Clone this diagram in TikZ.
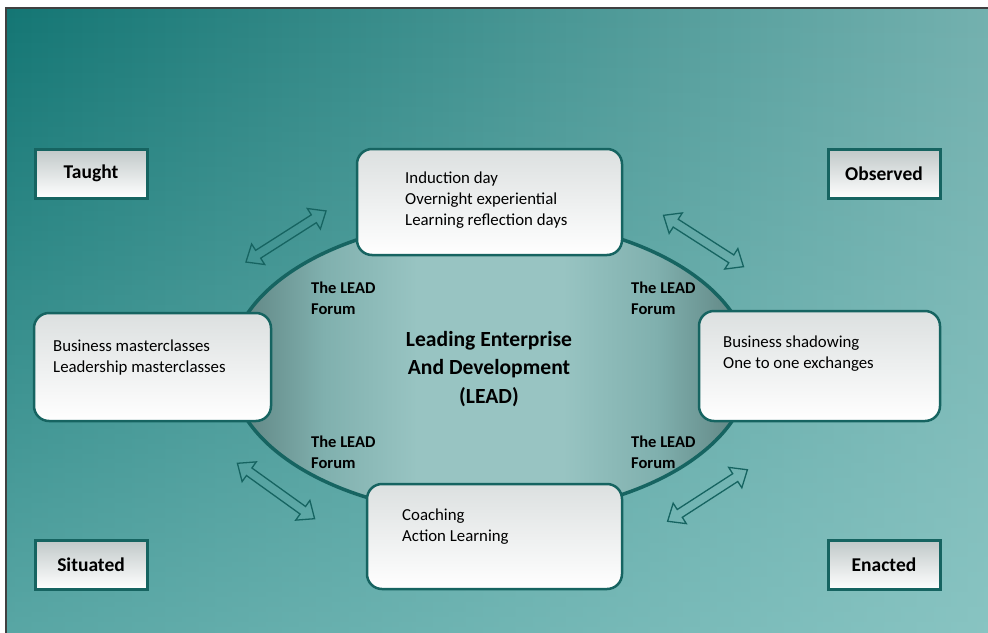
\documentclass[tikz,border=0pt]{standalone}
\usepackage{fontspec}
\setmainfont{Carlito}
\usetikzlibrary{shapes.arrows,calc,fadings}
\definecolor{bgdark}{RGB}{20,118,116}
\definecolor{bglight}{RGB}{116,177,175}
\definecolor{bgwash}{RGB}{158,216,214}
\definecolor{tealline}{RGB}{22,100,97}
\definecolor{ellin}{RGB}{152,196,194}
\definecolor{ellmid}{RGB}{128,176,174}
\definecolor{ellout}{RGB}{92,128,126}
\definecolor{boxtop}{RGB}{220,224,224}
\definecolor{labtop}{RGB}{192,200,200}
\pgfdeclarehorizontalshading{ellshade}{100bp}{color(0bp)=(ellout); color(25bp)=(ellout); color(34bp)=(ellmid); color(43bp)=(ellin); color(57bp)=(ellin); color(66bp)=(ellmid); color(75bp)=(ellout); color(100bp)=(ellout)}
\tikzset{
  topicbox/.style={draw=tealline, line width=2.5pt, rounded corners=15pt, top color=boxtop, bottom color=white, inner sep=0pt},
  labelbox/.style={draw=tealline, line width=3pt, top color=labtop, bottom color=white, inner sep=0pt, minimum width=112pt, minimum height=49pt, font=\fontsize{19.5}{23}\selectfont\bfseries},
  bodytext/.style={anchor=base west, inner sep=0pt, font=\fontsize{16.8}{21}\selectfont},
  forumtext/.style={anchor=base west, inner sep=0pt, font=\fontsize{16.5}{21}\selectfont\bfseries},
  dblarrow/.style={double arrow, draw=tealline, line width=1.3pt, minimum height=95pt, inner sep=4pt, double arrow head extend=7.5pt, double arrow tip angle=80, sloped, midway}
}
\begin{document}
\begin{tikzpicture}[x=1pt,y=-1pt]
\useasboundingbox (0,0) rectangle (988,632);
\fill[white] (0,0) rectangle (988,632);
\shade[left color=bgdark, right color=bglight] (6,8) rectangle (992,636);
\fill[bgwash, fill opacity=0.5, path fading=north] (6,8) rectangle (992,636);
\draw[line width=1.2pt, black!75] (992,8) -- (6,8) -- (6,636);

% central ellipse
\shade[shading=ellshade] (490,367) ellipse [x radius=260, y radius=148];
\draw[tealline, line width=3.5pt] (490,367) ellipse [x radius=260, y radius=148];

% central title
\node[inner sep=0pt, anchor=base, font=\fontsize{21.6}{28.5}\selectfont\bfseries] (lead) at (489,346)
  {\begin{tabular}[t]{@{}c@{}}Leading Enterprise\\And Development\\(LEAD)\end{tabular}};

% forum labels
\node[forumtext] (f1) at (311,293) {\begin{tabular}[t]{@{}l@{}}The LEAD\\Forum\end{tabular}};
\node[forumtext] (f2) at (631,293) {\begin{tabular}[t]{@{}l@{}}The LEAD\\Forum\end{tabular}};
\node[forumtext] (f3) at (311,447) {\begin{tabular}[t]{@{}l@{}}The LEAD\\Forum\end{tabular}};
\node[forumtext] (f4) at (631,447) {\begin{tabular}[t]{@{}l@{}}The LEAD\\Forum\end{tabular}};

% topic boxes
\node[topicbox, minimum width=265pt, minimum height=106pt] (induction) at (489.5,202) {};
\node[topicbox, minimum width=237pt, minimum height=108pt] (masters) at (152.5,367) {};
\node[topicbox, minimum width=241pt, minimum height=110pt] (shadow) at (819.5,366) {};
\node[topicbox, minimum width=255pt, minimum height=105pt] (coach) at (494.5,536.5) {};

\node[bodytext] (tinduction) at (405,183) {\begin{tabular}[t]{@{}l@{}}Induction day\\Overnight experiential\\Learning reflection days\end{tabular}};
\node[bodytext] (tmasters) at (53,351) {\begin{tabular}[t]{@{}l@{}}Business masterclasses\\Leadership masterclasses\end{tabular}};
\node[bodytext] (tshadow) at (723,347) {\begin{tabular}[t]{@{}l@{}}Business shadowing\\One to one exchanges\end{tabular}};
\node[bodytext] (tcoach) at (402,520) {\begin{tabular}[t]{@{}l@{}}Coaching\\Action Learning\end{tabular}};

% corner label boxes
\node[labelbox] (taught) at (91,173.5) {Taught};
\node[labelbox] (observed) at (884,174) {Observed};
\node[labelbox] (situated) at (91,564.5) {Situated};
\node[labelbox] (enacted) at (884,565) {Enacted};

% double arrows
\coordinate (a1s) at (246,262); \coordinate (a1e) at (326,211);
\coordinate (a2s) at (663,215); \coordinate (a2e) at (744,267);
\coordinate (a3s) at (237,463); \coordinate (a3e) at (315,519);
\coordinate (a4s) at (668,521); \coordinate (a4e) at (747,470);
\path (a1s) -- (a1e) node[dblarrow] (arrTL) {};
\path (a2s) -- (a2e) node[dblarrow] (arrTR) {};
\path (a3s) -- (a3e) node[dblarrow] (arrBL) {};
\path (a4s) -- (a4e) node[dblarrow] (arrBR) {};
\end{tikzpicture}
\end{document}
